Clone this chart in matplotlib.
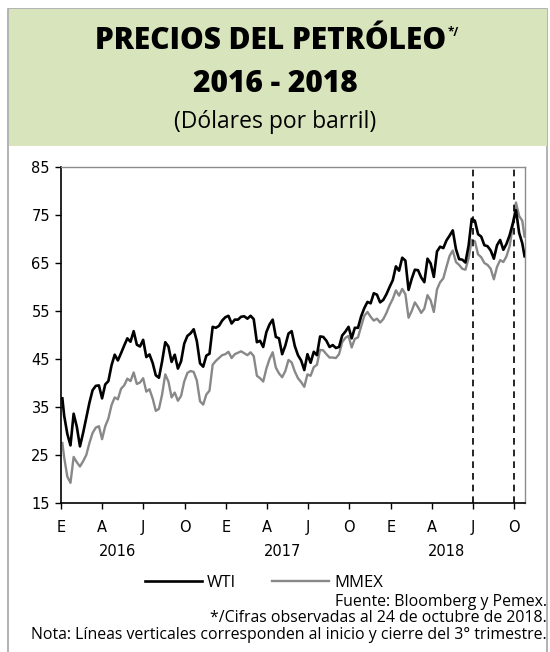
import numpy as np
import pandas as pd
import matplotlib
matplotlib.use("Agg")
import matplotlib.pyplot as plt
import matplotlib.transforms as mtransforms
from matplotlib.patches import Rectangle

# weekly closes (first value 4-ene-2016, last value 24-oct-2018), dolares por barril
wti_2016 = [36.8, 33.2, 29.4, 27.0, 33.6, 30.9, 26.8, 29.6, 32.8, 35.9, 38.5, 39.4, 39.5,
            36.8, 39.7, 40.4, 43.7, 45.9, 44.7, 46.2, 47.8, 49.3, 48.6, 50.8, 47.98, 47.6,
            48.99, 45.4, 45.95, 44.2, 41.6, 41.1, 44.5, 48.5, 47.6, 44.4, 45.9, 43.0, 44.5,
            48.2, 49.8, 50.35, 51.2, 48.7, 44.1, 43.4, 45.7, 46.1, 51.7, 51.5, 51.9, 53.0, 53.7]
wti_2017 = [54.0, 52.4, 53.2, 53.2, 53.8, 53.9, 53.4, 54.0, 53.3, 48.5, 48.8, 47.5, 50.6,
            52.2, 53.2, 49.6, 49.3, 46.0, 47.8, 50.3, 50.8, 47.7, 45.8, 44.7, 42.7, 46.0,
            44.2, 46.5, 45.8, 49.7, 49.6, 48.8, 47.5, 47.9, 47.3, 47.5, 49.9, 50.7, 51.7,
            49.3, 51.5, 51.5, 53.9, 55.6, 56.9, 56.6, 58.7, 58.4, 56.8, 57.3, 58.5, 60.0]
wti_2018 = [61.4, 64.3, 63.4, 66.1, 65.5, 59.4, 61.7, 63.6, 63.5, 62.0, 61.0, 65.9, 64.9,
            62.1, 67.4, 68.4, 68.1, 69.7, 70.7, 71.8, 67.9, 65.8, 65.7, 65.1, 68.6, 74.2,
            73.8, 71.0, 70.5, 68.7, 68.5, 67.6, 65.9, 68.7, 69.8, 67.75, 68.99, 70.8, 73.25,
            76.0, 71.3, 69.1, 66.4]

mmex_2016 = [27.5, 24.5, 20.5, 19.2, 24.6, 23.5, 22.6, 23.7, 25.0, 27.5, 29.6, 30.7, 31.0,
             28.3, 31.0, 32.6, 35.4, 37.0, 36.6, 38.8, 39.5, 40.9, 40.4, 42.2, 39.8, 40.1,
             41.0, 38.2, 38.7, 36.8, 34.2, 34.6, 37.6, 41.8, 40.3, 37.0, 38.0, 36.3, 37.3,
             40.3, 42.1, 42.5, 42.3, 40.5, 36.2, 35.5, 37.6, 38.4, 43.8, 44.6, 45.2, 45.8, 46.0]
mmex_2017 = [46.5, 45.2, 46.0, 46.3, 46.6, 46.2, 45.8, 46.4, 45.6, 41.5, 41.0, 40.3, 43.0,
             45.0, 46.4, 43.2, 42.0, 41.2, 42.5, 44.8, 44.3, 42.4, 41.0, 40.2, 39.2, 41.8,
             41.5, 43.3, 43.8, 46.9, 46.8, 46.0, 45.3, 45.3, 45.2, 46.0, 48.5, 49.4, 49.8,
             47.4, 49.2, 49.5, 51.8, 54.0, 54.8, 53.8, 53.0, 53.4, 52.6, 53.3, 54.6, 56.2]
mmex_2018 = [57.5, 59.3, 58.2, 59.6, 58.5, 53.6, 55.0, 56.8, 55.8, 54.6, 55.5, 58.3, 57.2,
             54.8, 59.5, 61.0, 61.8, 64.2, 66.5, 67.6, 65.2, 64.6, 63.8, 63.6, 66.0, 69.8,
             69.5, 66.8, 66.2, 65.0, 64.6, 63.8, 61.6, 64.2, 65.6, 65.2, 66.4, 68.5, 72.8,
             77.6, 74.8, 73.8, 70.5]

fridays = pd.date_range("2016-01-08", "2018-10-19", freq="W-FRI")
dates = pd.DatetimeIndex([pd.Timestamp("2016-01-04")]).append(fridays).append(
    pd.DatetimeIndex([pd.Timestamp("2018-10-24")]))
wti = np.array(wti_2016 + wti_2017 + wti_2018)
mmex = np.array(mmex_2016 + mmex_2017 + mmex_2018)

tick_dates = pd.date_range("2016-01-01", "2018-10-01", freq="QS")
tick_labels = ["E", "A", "J", "O"] * 3
years = ["2016", "2017", "2018"]
q3_lines = ["2018-07-01", "2018-10-01"]

font = ["Open Sans", "DejaVu Sans"]
W, H = 550, 652
fig = plt.figure(figsize=(W / 100, H / 100), dpi=100)

# frame (open at the bottom edge) and green header
fig.patches.append(Rectangle((8 / W, -10 / H), 539 / W, 1 + 1 / H, transform=fig.transFigure,
                             fill=False, edgecolor="#a6a6a6", linewidth=1.2))
fig.patches.append(Rectangle((8.5 / W, 1 - 146 / H), 538 / W, 137 / H, transform=fig.transFigure,
                             facecolor="#d8e4bc", edgecolor="none"))
title = fig.text(271 / W, 1 - 41 / H, "PRECIOS DEL PETRÓLEO", ha="center", va="center",
                 fontsize=21.5, fontweight="heavy", family=font)
fig.text(275 / W, 1 - 84 / H, "2016 - 2018", ha="center", va="center",
         fontsize=21.5, fontweight="heavy", family=font)
fig.text(275 / W, 1 - 122 / H, "(Dólares por barril)", ha="center", va="center",
         fontsize=16.5, family=font)

# superscript right after the title
bb = title.get_window_extent(renderer=fig.canvas.get_renderer())
fig.text(bb.x1 / W + 1 / W, 1 - 32 / H, "*/", ha="left", va="center", fontsize=8.5,
         fontweight="bold", family=font)

ax = fig.add_axes([61 / W, 1 - 503 / H, 464 / W, 336 / H])
ax.plot(dates, wti, color="black", linewidth=1.9, label="WTI", zorder=3)
ax.plot(dates, mmex, color="#888888", linewidth=1.7, label="MMEX", zorder=2)
for d in q3_lines:
    ax.axvline(pd.Timestamp(d), color="black", linestyle=(0, (4, 3)), linewidth=1.2, zorder=4)

ax.set_xlim(pd.Timestamp("2016-01-01"), pd.Timestamp("2018-10-25"))
ax.set_ylim(15, 85)
ax.set_yticks(np.arange(15, 86, 10))
ax.set_xticks(tick_dates)
ax.set_xticklabels(tick_labels)
ax.tick_params(axis="both", direction="out", length=4, width=1, labelsize=10.5, pad=4)
ax.tick_params(axis="x", pad=8)
for side in ["top", "right"]:
    ax.spines[side].set_color("#8c8c8c")
    ax.spines[side].set_linewidth(1)
for side in ["left", "bottom"]:
    ax.spines[side].set_color("black")
    ax.spines[side].set_linewidth(1.2)

trans = mtransforms.blended_transform_factory(ax.transData, fig.transFigure)
for y in years:
    ax.text(pd.Timestamp(f"{y}-05-05"), 1 - 551 / H, y, transform=trans, ha="center",
            va="center", fontsize=10.5)

fig.legend(loc="center", bbox_to_anchor=(264 / W, 1 - 583 / H), ncol=2, frameon=False,
           prop={"family": font, "size": 12}, handlelength=3.4, columnspacing=2.2,
           handletextpad=0.3)

foot = [("Fuente: Bloomberg y Pemex.", 602), ("*/Cifras observadas al 24 de octubre de 2018.", 618),
        ("Nota: Líneas verticales corresponden al inicio y cierre del 3° trimestre.", 635)]
for txt, y in foot:
    fig.text(547 / W, 1 - y / H, txt, ha="right", va="center", fontsize=11.4, family=font)

fig.savefig("out.png", dpi=100)
